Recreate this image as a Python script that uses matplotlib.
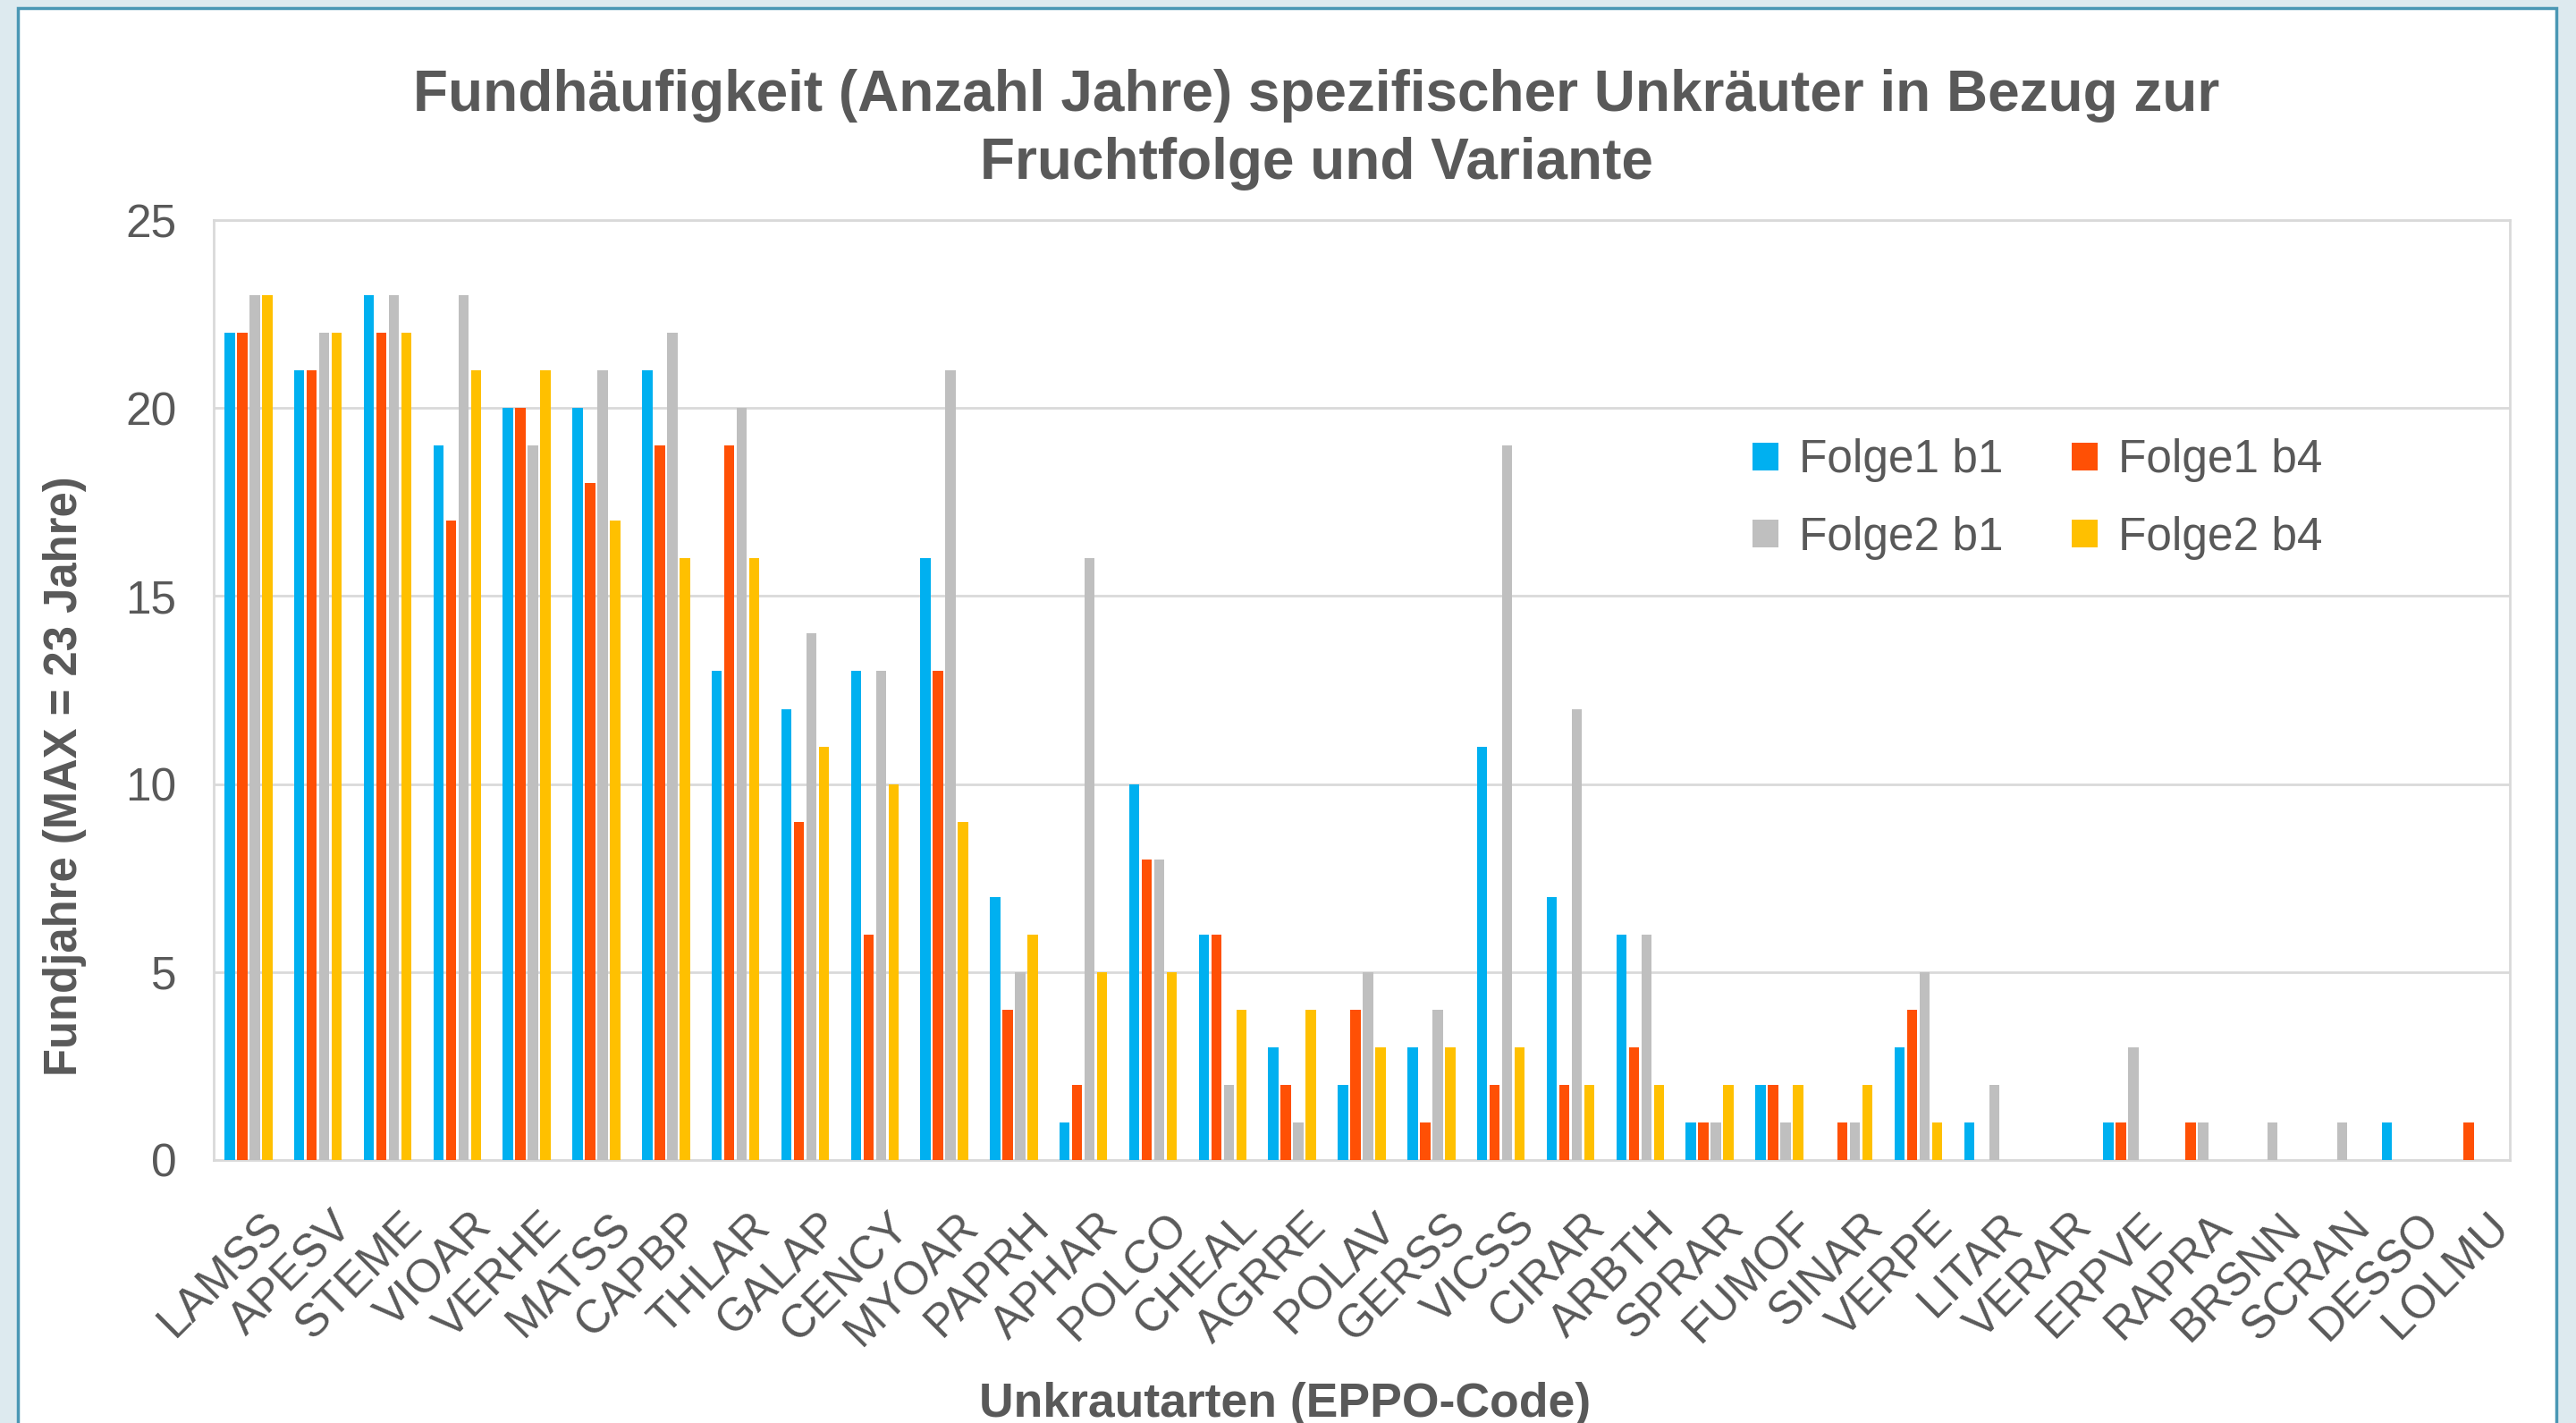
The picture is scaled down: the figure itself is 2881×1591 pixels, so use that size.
import matplotlib
matplotlib.use("Agg")
import matplotlib.pyplot as plt
import matplotlib.transforms as mtransforms
import numpy as np
from matplotlib.patches import Rectangle, Patch

# Unkrautarten (EPPO-Code)
codes = ["LAMSS", "APESV", "STEME", "VIOAR", "VERHE", "MATSS", "CAPBP", "THLAR",
         "GALAP", "CENCY", "MYOAR", "PAPRH", "APHAR", "POLCO", "CHEAL", "AGRRE",
         "POLAV", "GERSS", "VICSS", "CIRAR", "ARBTH", "SPRAR", "FUMOF", "SINAR",
         "VERPE", "LITAR", "VERAR", "ERPVE", "RAPRA", "BRSNN", "SCRAN", "DESSO",
         "LOLMU"]
# Fundjahre je Variante
folge1_b1 = [22, 21, 23, 19, 20, 20, 21, 13, 12, 13, 16, 7, 1, 10, 6, 3, 2, 3, 11, 7, 6,
             1, 2, 0, 3, 1, 0, 1, 0, 0, 0, 1, 0]
folge1_b4 = [22, 21, 22, 17, 20, 18, 19, 19, 9, 6, 13, 4, 2, 8, 6, 2, 4, 1, 2, 2, 3,
             1, 2, 1, 4, 0, 0, 1, 1, 0, 0, 0, 1]
folge2_b1 = [23, 22, 23, 23, 19, 21, 22, 20, 14, 13, 21, 5, 16, 8, 2, 1, 5, 4, 19, 12, 6,
             1, 1, 1, 5, 2, 0, 3, 1, 1, 1, 0, 0]
folge2_b4 = [23, 22, 22, 21, 21, 17, 16, 16, 11, 10, 9, 6, 5, 5, 4, 4, 3, 3, 3, 2, 2,
             2, 2, 2, 1, 0, 0, 0, 0, 0, 0, 0, 0]
series_names = ["Folge1 b1", "Folge1 b4", "Folge2 b1", "Folge2 b4"]
colors = ["#00B0F0", "#FF5005", "#BFBFBF", "#FFC000"]

plt.rcParams['font.family'] = ['Liberation Sans', 'DejaVu Sans']
txt = "#595959"

W, H = 2881, 1591
fig = plt.figure(figsize=(W / 100, H / 100), dpi=100, facecolor="#DDEAEF")

# weisse Diagrammflaeche mit Rahmen
panel = Rectangle((20 / W, -0.02), 2839 / W, (H - 9) / H + 0.02,
                  transform=fig.transFigure, facecolor="white",
                  edgecolor="#4A97B4", linewidth=2.5, zorder=-1)
fig.patches.append(panel)

ax = fig.add_axes([239 / W, 1 - 1297 / H, 2568 / W, (1297 - 246) / H])
ax.set_facecolor("white")
ax.set_zorder(1)

x = np.arange(len(codes))
step, width = 0.18, 0.148
data = [folge1_b1, folge1_b4, folge2_b1, folge2_b4]
for i, (vals, c) in enumerate(zip(data, colors)):
    ax.bar(x + (i - 1.5) * step, vals, width, color=c, zorder=3)

ax.set_xlim(-0.5, len(codes) - 0.5)
ax.set_ylim(0, 25)
ax.set_yticks([0, 5, 10, 15, 20, 25])
ax.grid(axis="y", color="#D9D9D9", linewidth=2, zorder=0)
for s in ax.spines.values():
    s.set_color("#D9D9D9")
    s.set_linewidth(2)
ax.tick_params(axis="y", length=0, pad=30, labelsize=37, labelcolor=txt)
ax.tick_params(axis="x", length=0, pad=36, labelsize=37, labelcolor=txt)
ax.set_xticks(x)
ax.set_xticklabels(codes, rotation=45, ha="right", va="top", rotation_mode="anchor")
shift = mtransforms.ScaledTranslation(10 / 72, 0, fig.dpi_scale_trans)
for lab in ax.get_xticklabels():
    lab.set_transform(lab.get_transform() + shift)

handles = [Patch(facecolor=c) for c in colors]
# Reihenfolge so, dass Zeile 1: Folge1 b1 / Folge1 b4
order = [0, 2, 1, 3]
leg = ax.legend([handles[k] for k in order], [series_names[k] for k in order],
                ncol=2, frameon=False, fontsize=37, labelcolor=txt,
                handlelength=0.55, handleheight=0.55, handletextpad=0.45,
                columnspacing=1.5, labelspacing=0.73,
                loc="upper left",
                bbox_to_anchor=((1945 - 239) / 2568 - 0.012, (1297 - 444) / 1051))

fig.text(1472 / W, 1 - 145 / H,
         "Fundhäufigkeit (Anzahl Jahre) spezifischer Unkräuter in Bezug zur\nFruchtfolge und Variante",
         ha="center", va="center", fontsize=46, fontweight="bold", color=txt,
         linespacing=1.33)
fig.text(1437 / W, 1 - 1570 / H, "Unkrautarten (EPPO-Code)", ha="center", va="center",
         fontsize=38.5, fontweight="bold", color=txt)
fig.text(73 / W, 1 - 868 / H, "Fundjahre (MAX = 23 Jahre)", ha="center", va="center",
         rotation=90, fontsize=36.5, fontweight="bold", color=txt)

fig.savefig("out.png", dpi=100, facecolor=fig.get_facecolor())
